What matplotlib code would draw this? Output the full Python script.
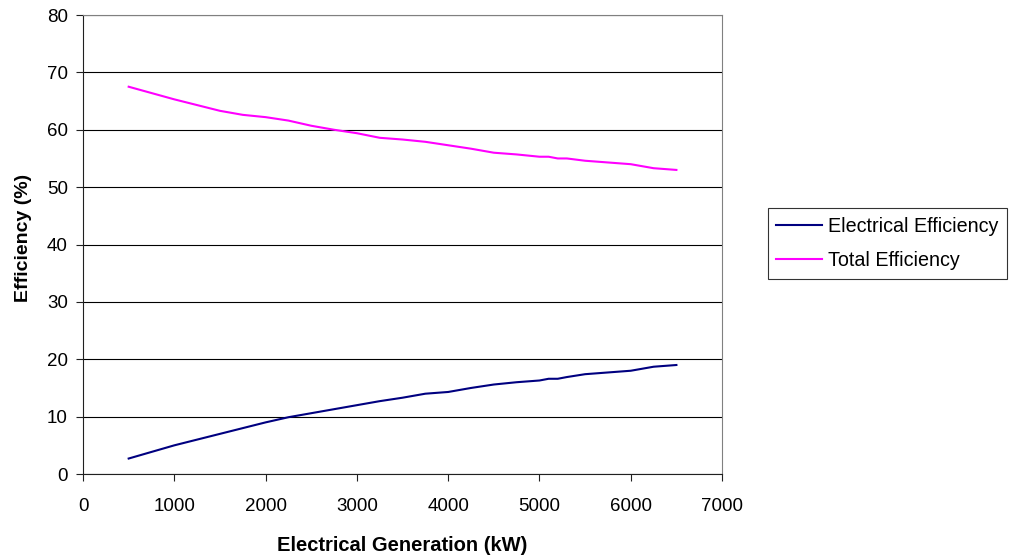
import matplotlib.pyplot as plt

plt.rcParams['font.family'] = ['Liberation Sans', 'DejaVu Sans']

# data
gen_kw = [500, 1000, 1500, 1750, 2000, 2250, 2500, 2750, 3000, 3250, 3500, 3750,
          4000, 4250, 4500, 4750, 5000, 5100, 5200, 5300, 5500, 5750, 6000, 6250, 6500]
total_eff = [67.5, 65.3, 63.3, 62.6, 62.2, 61.6, 60.7, 60.0, 59.4, 58.6, 58.3, 57.9,
             57.3, 56.7, 56.0, 55.7, 55.3, 55.3, 55.0, 55.0, 54.6, 54.3, 54.0, 53.3, 53.0]
elec_eff = [2.7, 5.0, 7.0, 8.0, 9.0, 9.9, 10.6, 11.3, 12.0, 12.7, 13.3, 14.0,
            14.3, 15.0, 15.6, 16.0, 16.3, 16.6, 16.6, 16.9, 17.4, 17.7, 18.0, 18.7, 19.0]

fig = plt.figure(figsize=(10.1, 5.58), dpi=100)
ax = fig.add_axes([0.0822, 0.1505, 0.6327, 0.8226])

ax.plot(gen_kw, elec_eff, color='#000080', lw=1.5, label='Electrical Efficiency')
ax.plot(gen_kw, total_eff, color='#FF00FF', lw=1.5, label='Total Efficiency')

ax.set_xlim(0, 7000)
ax.set_ylim(0, 80)
ax.set_xticks(range(0, 7001, 1000))
ax.set_yticks(range(0, 81, 10))
ax.yaxis.grid(True, color='black', lw=0.8)
ax.set_axisbelow(True)

for side in ['top', 'right']:
    ax.spines[side].set_color('#808080')
for side in ['left', 'bottom']:
    ax.spines[side].set_color('#202020')
ax.tick_params(direction='out', length=5, labelsize=13.5, color='#202020')
ax.tick_params(axis='x', pad=12)
ax.tick_params(axis='y', pad=6)

ax.set_xlabel('Electrical Generation (kW)', fontsize=14.5, fontweight='bold')
ax.set_ylabel('Efficiency (%)', fontsize=14, fontweight='bold')
ax.xaxis.set_label_coords(0.5, -0.134)
ax.yaxis.set_label_coords(-0.08, 0.514)

leg = ax.legend(loc='upper left', bbox_to_anchor=(0.760, 0.627), bbox_transform=fig.transFigure,
                fontsize=14.2, frameon=True, fancybox=False, handlelength=2.3,
                borderpad=0.45, labelspacing=0.75, handletextpad=0.3, borderaxespad=0)
leg.get_frame().set_edgecolor('black')
leg.get_frame().set_linewidth(0.8)

plt.savefig('out.png', dpi=100)
